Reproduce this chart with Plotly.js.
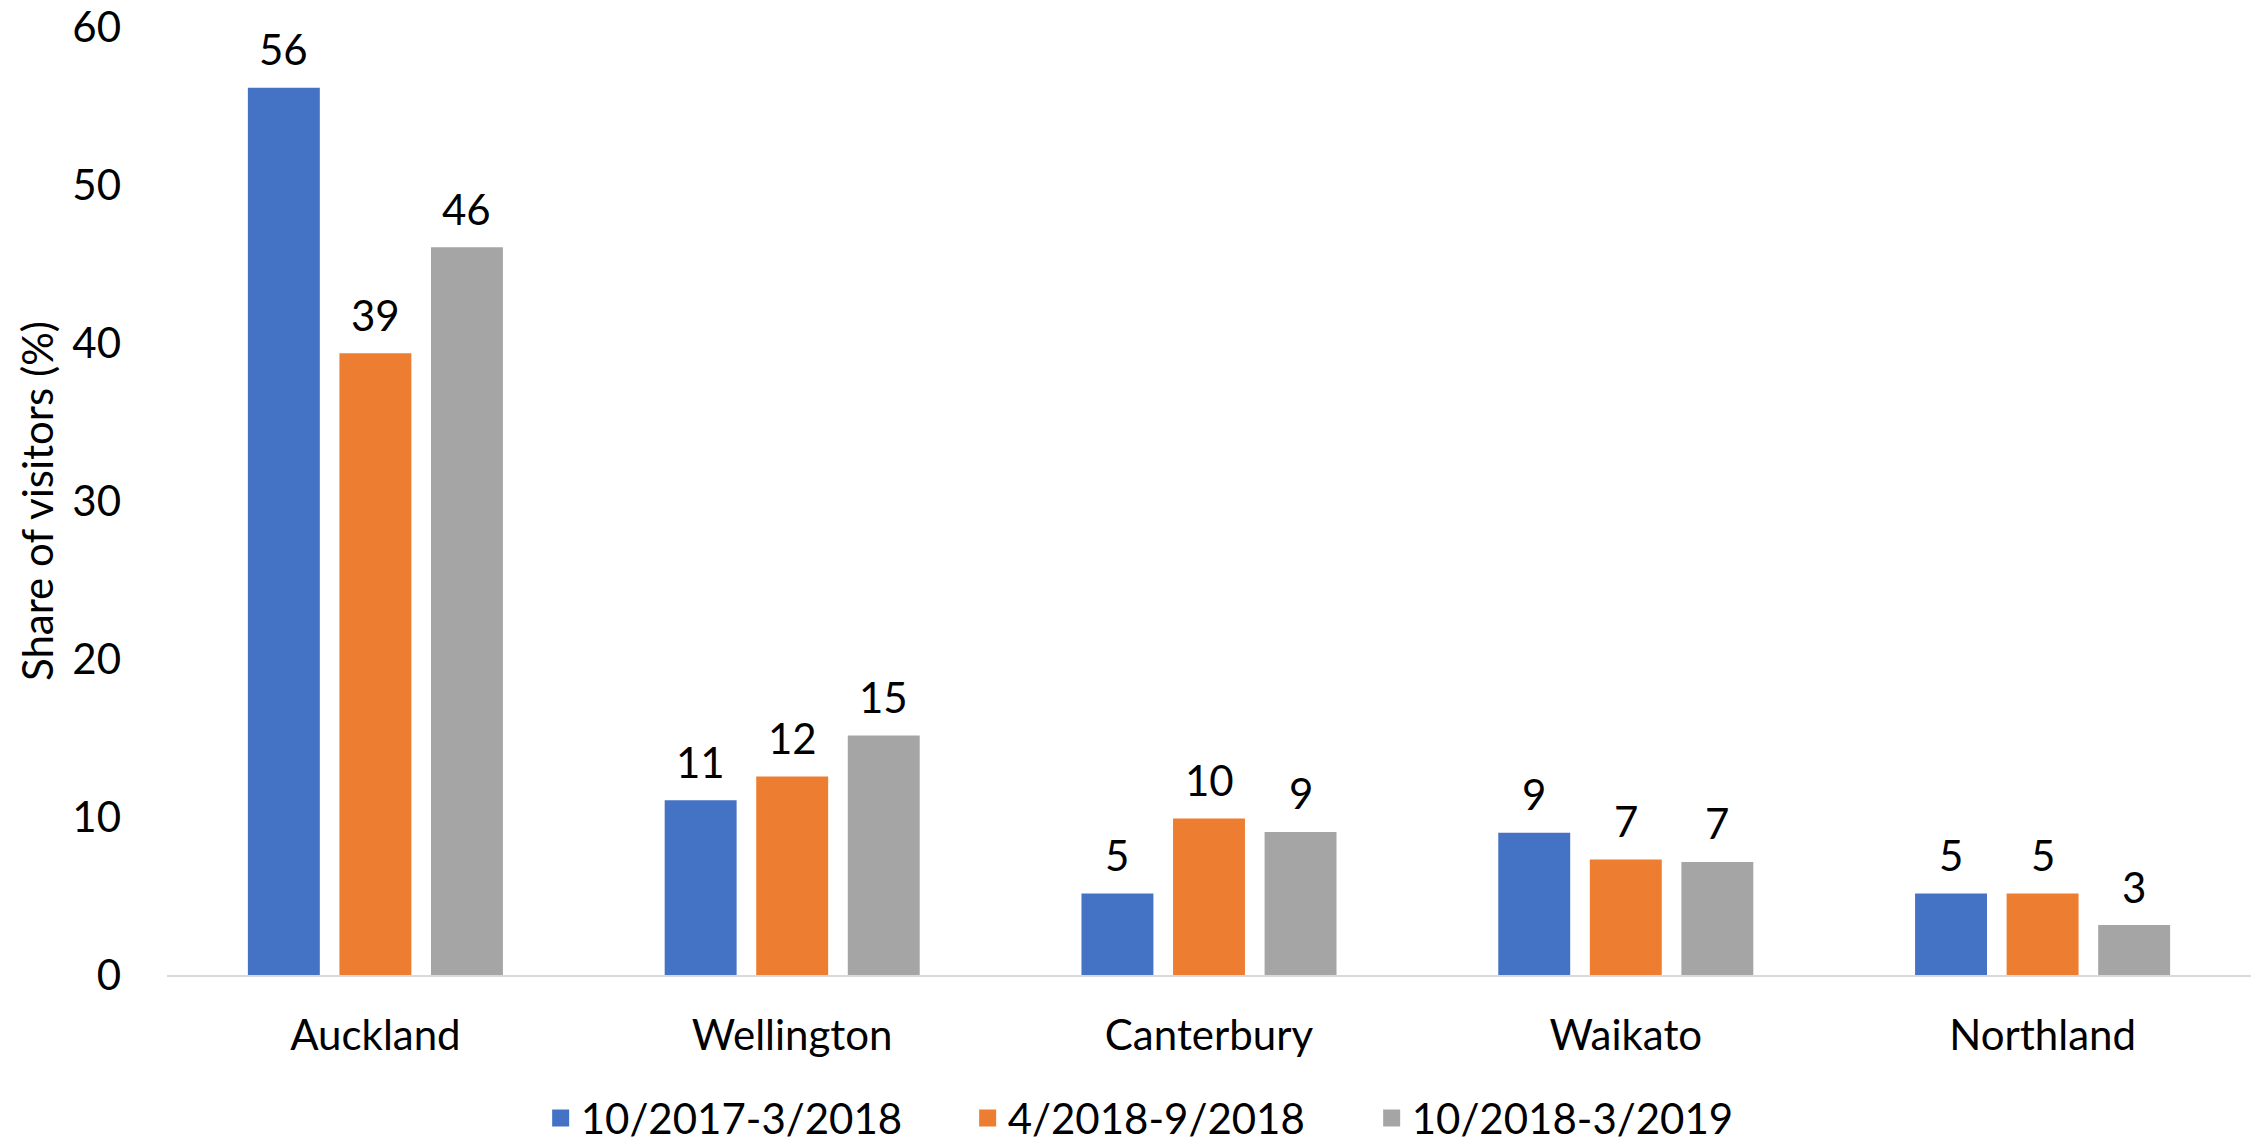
<!DOCTYPE html>
<html>
<head>
<meta charset="utf-8">
<script src="https://cdn.plot.ly/plotly-3.0.1.min.js"></script>
<style>html,body{margin:0;padding:0;background:#fff;}#chart{width:2255px;height:1142px;}</style>
</head>
<body>
<div id="chart"></div>
<script>
var regions = ["Auckland", "Wellington", "Canterbury", "Waikato", "Northland"];
var seriesNames = ["10/2017-3/2018", "4/2018-9/2018", "10/2018-3/2019"];
var period1 = [56.0, 10.9, 5.0, 8.85, 5.0];
var period2 = [39.2, 12.4, 9.75, 7.15, 5.0];
var period3 = [45.9, 15.0, 8.9, 7.0, 3.0];
var yTicks = [0, 10, 20, 30, 40, 50, 60];
var colors = ["#4472C4", "#ED7D31", "#A5A5A5"];
var legendWidths = [382, 359, 330];

var FONT = "Lato, 'Open Sans', sans-serif";
var FS = 42;
var margin = {l: 167, r: 4, t: 27, b: 167, autoexpand: false};
var W = 2255, H = 1142;
var bargap = 0.341, bargroupgap = 0.269;

var allSeries = [period1, period2, period3];
var traces = allSeries.map(function (vals, i) {
  return {
    type: "bar",
    name: seriesNames[i],
    x: regions,
    y: vals,
    legendwidth: legendWidths[i],
    marker: {color: colors[i], line: {color: colors[i], width: 5}},
    hoverinfo: "x+y+name"
  };
});

// data labels above each bar, positioned in data coordinates
var plotW = W - margin.l - margin.r;
var slot = plotW / regions.length * (1 - bargap) / allSeries.length;
var annotations = [];
allSeries.forEach(function (vals, i) {
  vals.forEach(function (v, j) {
    annotations.push({
      x: regions[j], y: v, xref: "x", yref: "y",
      text: String(Math.round(v)),
      showarrow: false,
      xanchor: "center", yanchor: "bottom",
      xshift: (i - (allSeries.length - 1) / 2) * slot,
      yshift: 14,
      font: {family: FONT, size: FS, color: "#000"}
    });
  });
});

var layout = {
  width: W, height: H,
  margin: margin,
  paper_bgcolor: "#fff", plot_bgcolor: "#fff",
  barmode: "group",
  bargap: bargap,
  bargroupgap: bargroupgap,
  font: {family: FONT, size: FS, color: "#000"},
  showlegend: true,
  legend: {
    orientation: "h",
    x: 0.1793, xanchor: "left",
    y: -0.151, yanchor: "middle",
    font: {family: FONT, size: FS, color: "#000"},
    itemclick: false, itemdoubleclick: false
  },
  xaxis: {
    type: "category",
    automargin: false,
    showline: true, linecolor: "#D9D9D9", linewidth: 2,
    showgrid: false, zeroline: false,
    ticks: "", ticklabelstandoff: 23,
    tickfont: {family: FONT, size: FS, color: "#000"}
  },
  yaxis: {
    automargin: false,
    range: [0, 60],
    tickvals: yTicks,
    ticktext: yTicks.map(String),
    showline: false, showgrid: false, zeroline: false,
    ticks: "", ticklabelstandoff: 45,
    tickfont: {family: FONT, size: FS, color: "#000"},
    title: {text: "Share of visitors (%)", standoff: 5, font: {family: FONT, size: FS, color: "#000"}}
  },
  annotations: annotations
};

Plotly.newPlot("chart", traces, layout, {displayModeBar: false, staticPlot: true});
</script>
</body>
</html>
